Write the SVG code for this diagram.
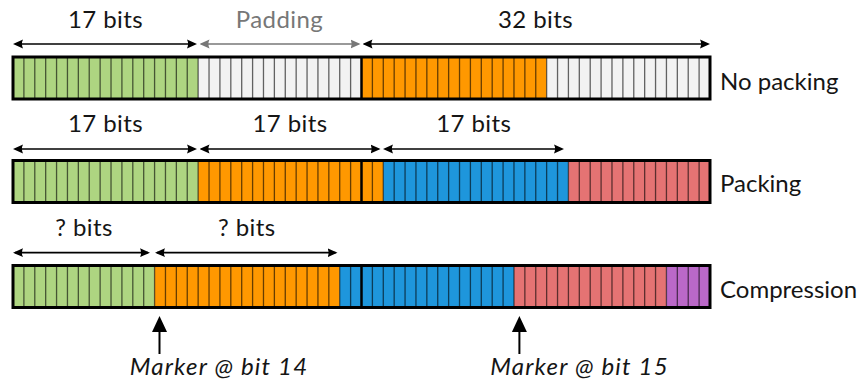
<svg xmlns="http://www.w3.org/2000/svg" xmlns:xlink="http://www.w3.org/1999/xlink" width="861" height="383" viewBox="0 0 861 383">
<style>
  text { font-family: Lato, "DejaVu Sans", sans-serif; font-size: 24px; fill: #151515; }
  .mid { text-anchor: middle; letter-spacing: 0.4px; }
  .grey { fill: #777777; }
  .it { font-style: italic; letter-spacing: 1.2px; }
  .green { fill: #AED581; }
  .orange { fill: #FF9800; }
  .pad { fill: #F2F2F2; }
  .blue { fill: #1E96DC; }
  .red { fill: #E57373; }
  .purple { fill: #BA68C8; }
  .ticks { fill: none; stroke: #000; stroke-opacity: 0.6; stroke-width: 1.3; }
  .frame { fill: none; stroke: #000; stroke-width: 3; }
  .half { stroke: #000; stroke-width: 2.5; }
  .dim { fill: none; stroke: #000; stroke-width: 1.7; marker-start: url(#ah); marker-end: url(#ah); }
  .dimg { fill: none; stroke: #777; stroke-width: 1.7; marker-start: url(#ahg); marker-end: url(#ahg); }
  .mk { stroke: #000; stroke-width: 2; }
</style>
<defs>
  <marker id="ah" markerUnits="userSpaceOnUse" markerWidth="10" markerHeight="10" viewBox="0 0 10 10" refX="8" refY="5" orient="auto-start-reverse">
    <path d="M0,0.6 L10,5 L0,9.4 Q2.2,5 0,0.6 z" fill="#000"/>
  </marker>
  <marker id="ahg" markerUnits="userSpaceOnUse" markerWidth="10" markerHeight="10" viewBox="0 0 10 10" refX="8" refY="5" orient="auto-start-reverse">
    <path d="M0,0.6 L10,5 L0,9.4 Q2.2,5 0,0.6 z" fill="#777"/>
  </marker>
  <path id="tk" class="ticks" d="M23.89,0V42M34.78,0V42M45.67,0V42M56.56,0V42M67.45,0V42M78.34,0V42M89.23,0V42M100.13,0V42M111.02,0V42M121.91,0V42M132.8,0V42M143.69,0V42M154.58,0V42M165.47,0V42M176.36,0V42M187.25,0V42M198.14,0V42M209.03,0V42M219.92,0V42M230.81,0V42M241.7,0V42M252.59,0V42M263.48,0V42M274.38,0V42M285.27,0V42M296.16,0V42M307.05,0V42M317.94,0V42M328.83,0V42M339.72,0V42M350.61,0V42M372.39,0V42M383.28,0V42M394.17,0V42M405.06,0V42M415.95,0V42M426.84,0V42M437.73,0V42M448.63,0V42M459.52,0V42M470.41,0V42M481.3,0V42M492.19,0V42M503.08,0V42M513.97,0V42M524.86,0V42M535.75,0V42M546.64,0V42M557.53,0V42M568.42,0V42M579.31,0V42M590.2,0V42M601.09,0V42M611.98,0V42M622.88,0V42M633.77,0V42M644.66,0V42M655.55,0V42M666.44,0V42M677.33,0V42M688.22,0V42M699.11,0V42"/>
  <g id="frame">
    <rect class="frame" x="13" y="0" width="697" height="42"/>
    <line class="half" x1="361.5" y1="0" x2="361.5" y2="42"/>
  </g>
</defs>

<g id="bar-no-packing" transform="translate(0,57)">
  <rect class="green" x="13" y="0" width="185.14" height="42"/>
  <rect class="pad" x="198.14" y="0" width="163.36" height="42"/>
  <rect class="orange" x="361.5" y="0" width="185.14" height="42"/>
  <rect class="pad" x="546.64" y="0" width="163.36" height="42"/>
  <use xlink:href="#tk"/>
  <use xlink:href="#frame"/>
</g>
<g id="bar-packing" transform="translate(0,160.5)">
  <rect class="green" x="13" y="0" width="185.14" height="42"/>
  <rect class="orange" x="198.14" y="0" width="185.14" height="42"/>
  <rect class="blue" x="383.28" y="0" width="185.14" height="42"/>
  <rect class="red" x="568.42" y="0" width="141.58" height="42"/>
  <use xlink:href="#tk"/>
  <use xlink:href="#frame"/>
</g>
<g id="bar-compression" transform="translate(0,265.5)">
  <rect class="green" x="13" y="0" width="141.58" height="42"/>
  <rect class="orange" x="154.58" y="0" width="185.14" height="42"/>
  <rect class="blue" x="339.72" y="0" width="174.25" height="42"/>
  <rect class="red" x="513.97" y="0" width="152.47" height="42"/>
  <rect class="purple" x="666.44" y="0" width="43.56" height="42"/>
  <use xlink:href="#tk"/>
  <use xlink:href="#frame"/>
</g>

<g id="label-no-packing"><text x="720" y="90">No packing</text></g>
<g id="label-packing"><text x="720" y="192">Packing</text></g>
<g id="label-compression"><text x="720" y="298">Compression</text></g>

<g id="connectors">
  <line class="dim" x1="15" y1="44" x2="195" y2="44"/>
  <line class="dimg" x1="201.5" y1="44" x2="358.5" y2="44"/>
  <line class="dim" x1="364.5" y1="44" x2="708" y2="44"/>

  <line class="dim" x1="15" y1="149" x2="195" y2="149"/>
  <line class="dim" x1="201.5" y1="149" x2="378.5" y2="149"/>
  <line class="dim" x1="385" y1="149" x2="562" y2="149"/>

  <line class="dim" x1="15" y1="252.7" x2="148" y2="252.7"/>
  <line class="dim" x1="157" y1="252.7" x2="335.5" y2="252.7"/>

  <line class="mk" x1="159.5" y1="354" x2="159.5" y2="328"/>
  <path d="M159.5,316 L167,332 L152,332 z" fill="#000"/>
  <line class="mk" x1="519.4" y1="354" x2="519.4" y2="328"/>
  <path d="M519.4,316 L526.9,332 L511.9,332 z" fill="#000"/>
</g>

<g id="dim-labels">
  <text class="mid" x="105.5" y="28">17 bits</text>
  <text class="mid grey" x="279.5" y="28">Padding</text>
  <text class="mid" x="535.5" y="28">32 bits</text>
  <text class="mid" x="105.5" y="132">17 bits</text>
  <text class="mid" x="290" y="132">17 bits</text>
  <text class="mid" x="473.7" y="132">17 bits</text>
  <text class="mid" x="84" y="236">? bits</text>
  <text class="mid" x="246.7" y="236">? bits</text>
</g>

<g id="marker-labels">
  <text class="mid it" x="219" y="375">Marker @ bit 14</text>
  <text class="mid it" x="579.5" y="375">Marker @ bit 15</text>
</g>
</svg>
